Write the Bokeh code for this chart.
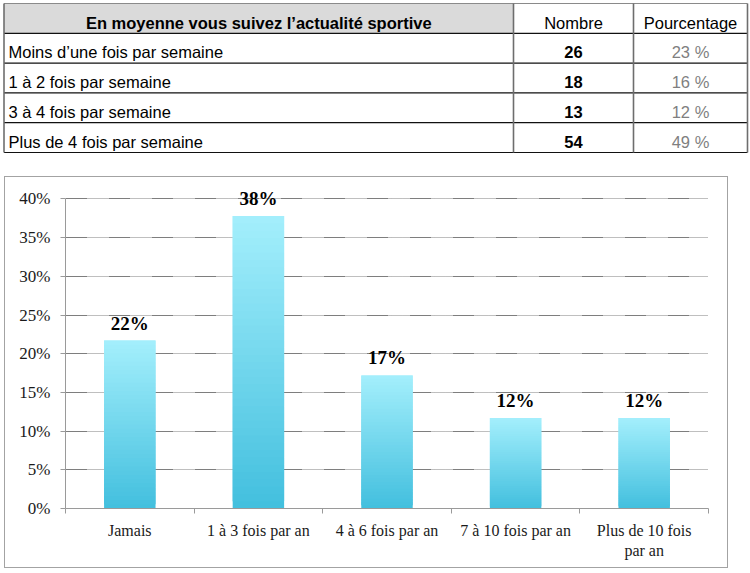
from bokeh.plotting import figure
from bokeh.models import Range1d, FixedTicker, PrintfTickFormatter, ColumnDataSource, LabelSet
from bokeh.layouts import column
from bokeh.embed import file_html
from bokeh.resources import INLINE
from bokeh.core.properties import value

# ---------------- data ----------------
table_header = ["En moyenne vous suivez l\u2019actualit\u00e9 sportive", "Nombre", "Pourcentage"]
table_rows = ["Moins d\u2019une fois par semaine", "1 \u00e0 2 fois par semaine",
              "3 \u00e0 4 fois par semaine", "Plus de 4 fois par semaine"]
table_counts = [26, 18, 13, 54]
table_pcts = ["23 %", "16 %", "12 %", "49 %"]

categories = ["Jamais", "1 \u00e0 3 fois par an", "4 \u00e0 6 fois par an",
              "7 \u00e0 10 fois par an", "Plus de 10 fois\npar an"]
shares = [21.7, 37.8, 17.2, 11.7, 11.7]
share_labels = ["22%", "38%", "17%", "12%", "12%"]
y_ticks = [0, 5, 10, 15, 20, 25, 30, 35, 40]

# ---------------- table ----------------
TW, TH = 750, 155
ROW_H, TOP = 29.8, 3.0
col_edges = [3.5, 513, 633, 747]
n_rows = len(table_rows) + 1
FS = "16.5px"

t = figure(width=TW, height=TH, x_range=Range1d(0, TW),
           y_range=Range1d((TH - TOP) / ROW_H, -TOP / ROW_H),
           output_backend="svg", toolbar_location=None, min_border=0,
           x_axis_type=None, y_axis_type=None)
t.frame_align = False
t.grid.visible = False
t.outline_line_color = None

# header shading (first column only)
t.quad(left=[col_edges[0]], right=[col_edges[1]], top=[0], bottom=[1],
       fill_color="#dadada", line_color=None)
# horizontal rules
hy = list(range(n_rows + 1))
t.segment(x0=[col_edges[0]] * len(hy), x1=[col_edges[-1]] * len(hy), y0=hy, y1=hy,
          line_color=["#8a8a8a"] + ["#111111"] * n_rows, line_width=1.2)
# vertical rules
t.segment(x0=col_edges, x1=col_edges, y0=[0] * 4, y1=[n_rows] * 4,
          line_color="#6e6e6e", line_width=1.6)

centers = [(col_edges[i] + col_edges[i + 1]) / 2 for i in range(3)]
font = value("Liberation Sans")
t.text(x=[centers[0]], y=[0.64], text=[table_header[0]], text_font=font,
       text_font_size=FS, text_font_style="bold", text_align="center",
       text_baseline="middle", text_color="#000000")
t.text(x=centers[1:], y=[0.64, 0.64], text=table_header[1:], text_font=font,
       text_font_size=FS, text_align="center", text_baseline="middle",
       text_color="#000000")
row_y = [i + 1.64 for i in range(len(table_rows))]
t.text(x=[8] * len(table_rows), y=row_y, text=table_rows, text_font=font,
       text_font_size=FS, text_align="left", text_baseline="middle", text_color="#000000")
t.text(x=[centers[1]] * len(table_rows), y=row_y, text=[str(v) for v in table_counts],
       text_font=font, text_font_size=FS, text_font_style="bold",
       text_align="center", text_baseline="middle", text_color="#000000")
t.text(x=[centers[2]] * len(table_rows), y=row_y, text=table_pcts, text_font=font,
       text_font_size=FS, text_align="center", text_baseline="middle", text_color="#7f7f7f")

# ---------------- bar chart ----------------
n = len(categories)
c = figure(width=724, height=392, x_range=Range1d(0, n), y_range=Range1d(0, 42),
           output_backend="svg", toolbar_location=None,
           min_border_left=60, min_border_right=21, min_border_top=6, min_border_bottom=61)
c.frame_align = False
c.margin = (0, 0, 0, 4)
c.styles = {"border": "1px solid #a3a3a3"}
c.outline_line_color = None
c.background_fill_color = "#ffffff"
c.border_fill_color = "#ffffff"

# gradient bars, built from the data values (overlapping slices to avoid seams)
steps = 40
top_rgb = (164, 239, 252)
bot_rgb = (66, 191, 222)
L, R, B, T, C = [], [], [], [], []
for i, v in enumerate(shares):
    for k in range(steps):
        f = (k + 0.5) / steps
        L.append(i + 0.3)
        R.append(i + 0.7)
        B.append(v * k / steps)
        T.append(min(v, v * (k + 2) / steps))
        rgb = tuple(int(round(bot_rgb[j] + (top_rgb[j] - bot_rgb[j]) * f)) for j in range(3))
        C.append("#%02x%02x%02x" % rgb)
c.quad(left=L, right=R, bottom=B, top=T, fill_color=C, line_color=None)

lab_src = ColumnDataSource(dict(x=[i + 0.5 for i in range(n)], y=shares, t=share_labels))
c.add_layout(LabelSet(x="x", y="y", text="t", source=lab_src, text_align="center",
                      text_baseline="alphabetic", y_offset=11,
                      text_font=value("Liberation Serif"), text_font_size="19px",
                      text_font_style="bold", text_color="#000000"))

# x axis: labels at band centres, tick marks at band boundaries
xa = c.xaxis[0]
xa.ticker = FixedTicker(ticks=[i + 0.5 for i in range(n)], minor_ticks=list(range(n + 1)))
xa.major_label_overrides = {i + 0.5: categories[i] for i in range(n)}
xa.major_tick_out = 0
xa.major_tick_in = 0
xa.minor_tick_out = 5
xa.minor_tick_in = 0
xa.minor_tick_line_color = "#9a9a9a"
xa.axis_line_color = "#9a9a9a"
xa.major_label_standoff = 8
xa.major_label_text_font = "Liberation Serif"
xa.major_label_text_font_size = "16px"
xa.major_label_text_color = "#1a1a1a"

ya = c.yaxis[0]
ya.ticker = FixedTicker(ticks=y_ticks)
ya.bounds = (y_ticks[0], y_ticks[-1])
ya.formatter = PrintfTickFormatter(format="%d%%")
ya.major_tick_out = 5
ya.major_tick_in = 0
ya.minor_tick_out = 0
ya.minor_tick_in = 0
ya.major_tick_line_color = "#9a9a9a"
ya.axis_line_color = "#9a9a9a"
ya.major_label_standoff = 10
ya.major_label_text_font = "Liberation Serif"
ya.major_label_text_font_size = "17px"
ya.major_label_text_color = "#1a1a1a"

c.xgrid.visible = False
c.ygrid.grid_line_color = "#7e7e7e"
c.ygrid.grid_line_width = 1
c.ygrid.grid_line_dash = "22 " + " ".join(["1"] * 21)

layout = column(t, c, spacing=21)
open("out.html", "w").write(file_html(layout, INLINE))
